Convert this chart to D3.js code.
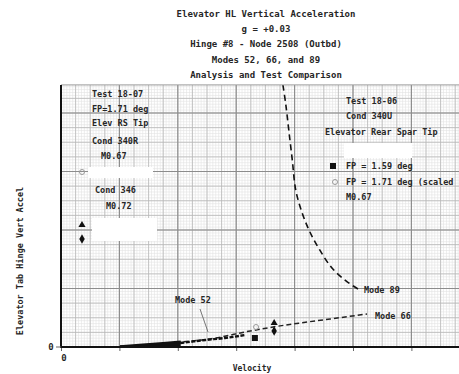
<!DOCTYPE html>
<html>
<head>
<meta charset="utf-8">
<script src="https://cdn.jsdelivr.net/npm/d3@7"></script>
<style>
  body { margin: 0; background: #fff; }
  text { font-family: "DejaVu Sans Mono", monospace; font-weight: bold; fill: #262626; }
</style>
</head>
<body>
<svg id="chart" width="459" height="374"></svg>
<script>
// chart text
const titleLines = [
  'Elevator HL Vertical Acceleration',
  'g = +0.03',
  'Hinge #8 - Node 2508 (Outbd)',
  'Modes 52, 66, and 89',
  'Analysis and Test Comparison'
];

// analysis curves (velocity in major grid units, accel in major grid units)
const mode89X = [3.80, 3.85, 3.90, 3.96, 4.02, 4.13, 4.26, 4.43, 4.64, 4.88, 5.12];
const mode89Y = [4.48, 4.14, 3.71, 3.20, 2.68, 2.29, 1.97, 1.66, 1.35, 1.13, 0.97];
const mode66X = [1.01, 1.52, 2.04, 2.55, 3.24, 3.63, 4.09, 4.61, 5.24];
const mode66Y = [0.00, 0.034, 0.085, 0.137, 0.274, 0.342, 0.41, 0.479, 0.564];
const mode52X = [1.01, 1.52, 2.04, 2.47, 2.81, 3.15];
const mode52Y = [0.00, 0.026, 0.068, 0.12, 0.154, 0.205];
// low branch near the axis (drawn solid)
const lowX = [1.01, 1.40, 1.80, 2.05];
const lowY = [0.00, 0.03, 0.06, 0.08];

// test points
const testPoints = [
  { name: 'FP = 1.59 deg', x: 3.32, y: 0.154, sym: 'square' },
  { name: 'FP = 1.71 deg (scaled', x: 3.34, y: 0.342, sym: 'open' },
  { name: 'Cond 346 M0.72 a', x: 3.65, y: 0.41, sym: 'triangle' },
  { name: 'Cond 346 M0.72 b', x: 3.65, y: 0.274, sym: 'diamond' }
];

const svg = d3.select('#chart');
const x0 = 61, y0 = 347, major = 58.4, majorY = 58.5;
const x = d3.scaleLinear().domain([0, 7]).range([x0, x0 + 7 * major]);
const y = d3.scaleLinear().domain([0, 4.48]).range([y0, y0 - 4.48 * majorY]);
const plotTop = y(4.48);

// title
svg.append('g').selectAll('text')
  .data(titleLines)
  .enter().append('text')
  .attr('x', 266)
  .attr('y', (d, i) => 17 + i * 15.2)
  .attr('text-anchor', 'middle')
  .style('font-size', '9px')
  .text(d => d);

svg.append('defs').append('clipPath').attr('id', 'plotClip')
  .append('rect').attr('x', x0).attr('y', plotTop).attr('width', 459 - x0).attr('height', y0 - plotTop);

const plot = svg.append('g').attr('clip-path', 'url(#plotClip)');

// graph paper grid: fine, medium, major
function gridLines(step, color, width) {
  const xs = d3.range(0, 7.001, step);
  const ys = d3.range(0, 4.481, step);
  const g = plot.append('g').attr('stroke', color).attr('stroke-width', width);
  g.selectAll('line.v').data(xs).enter().append('line')
    .attr('x1', d => x(d)).attr('x2', d => x(d)).attr('y1', plotTop).attr('y2', y0);
  g.selectAll('line.h').data(ys).enter().append('line')
    .attr('y1', d => y(d)).attr('y2', d => y(d)).attr('x1', x0).attr('x2', 470);
}
gridLines(0.05, '#e3e3e3', 0.6);
gridLines(0.25, '#b8b8b8', 0.8);
gridLines(1, '#8c8c8c', 1.1);

// top border
svg.append('line').attr('x1', x0).attr('x2', 459).attr('y1', plotTop).attr('y2', plotTop)
  .attr('stroke', '#999').attr('stroke-width', 1);

// white boxes on the grid
const boxes = [[88, 167, 65, 11], [92, 218, 65, 23], [344, 143, 68, 15]];
svg.append('g').selectAll('rect').data(boxes).enter().append('rect')
  .attr('x', d => d[0]).attr('y', d => d[1]).attr('width', d => d[2]).attr('height', d => d[3])
  .attr('fill', '#fff');

// curves
const line = d3.line().x(d => x(d[0])).y(d => y(d[1])).curve(d3.curveMonotoneX);
const line89 = d3.line().x(d => x(d[0])).y(d => y(d[1])).curve(d3.curveCatmullRom);
plot.append('path').datum(d3.zip(mode89X, mode89Y)).attr('d', line89)
  .attr('fill', 'none').attr('stroke', '#111').attr('stroke-width', 1.6).attr('stroke-dasharray', '6,4');
plot.append('path').datum(d3.zip(mode66X, mode66Y)).attr('d', line)
  .attr('fill', 'none').attr('stroke', '#222').attr('stroke-width', 1.5).attr('stroke-dasharray', '5,3');
plot.append('path').datum(d3.zip(mode52X, mode52Y)).attr('d', line)
  .attr('fill', 'none').attr('stroke', '#111').attr('stroke-width', 2.4).attr('stroke-dasharray', '4,1.5');
plot.append('path').datum(d3.zip(lowX, lowY)).attr('d', line)
  .attr('fill', 'none').attr('stroke', '#111').attr('stroke-width', 3.5);
plot.append('path').datum(d3.zip(lowX, lowY.map(v => v * 0.4))).attr('d', line)
  .attr('fill', 'none').attr('stroke', '#111').attr('stroke-width', 3);

// Mode 52 leader line
svg.append('line').attr('x1', 200).attr('y1', 309).attr('x2', 208).attr('y2', 332)
  .attr('stroke', '#555').attr('stroke-width', 0.8);

// markers
function marker(g, sym, cx, cy) {
  if (sym === 'square') {
    g.append('rect').attr('x', cx - 3).attr('y', cy - 3).attr('width', 6).attr('height', 6).attr('fill', '#111');
  } else if (sym === 'open') {
    g.append('circle').attr('cx', cx).attr('cy', cy).attr('r', 2.5)
      .attr('fill', 'none').attr('stroke', '#999').attr('stroke-width', 1);
  } else if (sym === 'triangle') {
    g.append('path').attr('d', d3.symbol(d3.symbolTriangle, 22)()).attr('transform', `translate(${cx},${cy})`).attr('fill', '#111');
  } else {
    g.append('path').attr('d', d3.symbol(d3.symbolDiamond, 26)()).attr('transform', `translate(${cx},${cy})`).attr('fill', '#111');
  }
}
const pts = svg.append('g');
testPoints.forEach(p => marker(pts, p.sym, x(p.x), y(p.y)));

// legend markers
const legendMarks = [
  ['open', 82, 172], ['triangle', 82, 225], ['diamond', 82, 239],
  ['square', 333, 166], ['open', 335, 182]
];
legendMarks.forEach(m => marker(pts, m[0], m[1], m[2]));

// annotation text
const notes = [
  ['Test 18-07', 92, 97], ['FP=1.71 deg', 92, 112], ['Elev RS Tip', 92, 126],
  ['Cond 340R', 92, 144], ['M0.67', 101, 159], ['Cond 346', 95, 193], ['M0.72', 106, 209],
  ['Test 18-06', 346, 104], ['Cond 340U', 346, 119], ['Elevator Rear Spar Tip', 325, 135],
  ['FP = 1.59 deg', 346, 169], ['FP = 1.71 deg (scaled', 346, 185], ['M0.67', 346, 200],
  ['Mode 89', 364, 293], ['Mode 66', 375, 319], ['Mode 52', 175, 303]
];
svg.append('g').selectAll('text').data(notes).enter().append('text')
  .attr('x', d => d[1]).attr('y', d => d[2])
  .style('font-size', '8.5px')
  .text(d => d[0]);

// axes
const xAxis = d3.axisBottom(x).tickValues(d3.range(0, 7)).tickSize(4).tickFormat(() => '');
svg.append('g').attr('transform', `translate(0,${y0})`).call(xAxis)
  .call(g => g.select('.domain').remove())
  .call(g => g.selectAll('.tick line').attr('stroke', '#666'));
svg.append('line').attr('x1', x0).attr('x2', 459).attr('y1', y0).attr('y2', y0)
  .attr('stroke', '#111').attr('stroke-width', 2);
svg.append('line').attr('x1', x0).attr('x2', x0).attr('y1', plotTop).attr('y2', y0 + 1)
  .attr('stroke', '#111').attr('stroke-width', 2);
svg.append('line').attr('x1', x0 - 5).attr('x2', x0).attr('y1', y0).attr('y2', y0)
  .attr('stroke', '#666').attr('stroke-width', 1);

svg.append('text').attr('x', x(0) + 3).attr('y', y0 + 14).attr('text-anchor', 'middle')
  .style('font-size', '9px').text('0');
svg.append('text').attr('x', x0 - 10).attr('y', y0 + 3).attr('text-anchor', 'middle')
  .style('font-size', '9px').text('0');

svg.append('text').attr('x', 252).attr('y', 371).attr('text-anchor', 'middle')
  .style('font-size', '8px').text('Velocity');
svg.append('text').attr('transform', 'translate(23,261) rotate(-90)').attr('text-anchor', 'middle')
  .style('font-size', '8.5px').text('Elevator Tab Hinge Vert Accel');
</script>
</body>
</html>
